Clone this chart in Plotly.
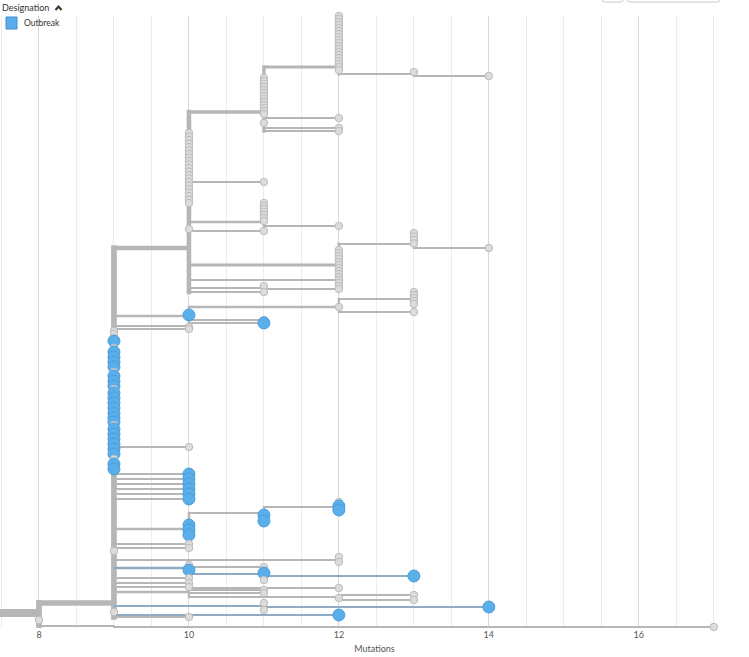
import math
import plotly.graph_objects as go

# ---------------- data ----------------
# internal nodes of the tree (mutations from reference, display row)
NODE_ID = ["R", "N8", "N9", "N9b", "A", "B", "P", "Q", "T", "C", "U", "D",
           "E", "F", "G", "H", "I", "J", "V", "S", "K", "L", "M", "Nn", "O"]
NODE_PARENT = [None, "R", "N8", "N8", "N9", "A", "B", "P", "A", "A", "C", "A",
               "N9", "E", "F", "N9", "N9", "I", "J", "N9", "N9", "K", "N9", "M", "N9"]
NODE_MUT = [0, 8, 9, 9, 10, 11, 12, 13, 11, 12, 13, 11,
            10, 12, 13, 10, 10, 11, 12, 12, 10, 11, 10, 12, 11]
NODE_ROW = [613, 613, 603, 626, 248, 112, 67, 74, 222, 265, 244, 288,
            316, 307, 299, 326, 529, 513, 507, 560, 568, 574, 592, 597, 606]

# samples (tips): parent node, mutations, designation, display rows
TIP_STACKS = [
    ("P", 12, "Other", [16, 19, 22, 25, 28, 31, 34, 37, 40, 43, 46, 49, 52, 55, 58, 61, 64, 67, 70]),
    ("Q", 13, "Other", [72]),
    ("Q", 14, "Other", [76]),
    ("B", 11, "Other", [78, 81, 84, 87, 90, 93, 96, 99, 102, 105, 108, 111, 114]),
    ("B", 12, "Other", [118]),
    ("B", 11, "Other", [123]),
    ("B", 12, "Other", [128, 131]),
    ("A", 10, "Other", [133, 136.5, 140, 143.5, 147, 150.5, 154, 157.5, 161, 164.5, 168,
                        171.5, 175, 178.5, 182, 185.5, 189, 192.5, 196, 199.5, 203]),
    ("A", 11, "Other", [182]),
    ("T", 11, "Other", [203, 206, 209, 212, 215, 218, 221]),
    ("T", 12, "Other", [226]),
    ("A", 10, "Other", [229]),
    ("A", 11, "Other", [231]),
    ("U", 13, "Other", [233, 236.5, 240, 243.5]),
    ("U", 14, "Other", [248]),
    ("C", 12, "Other", [250, 253, 256, 259, 262, 265, 268, 271, 274, 277, 280, 283, 286]),
    ("A", 12, "Other", [280]),
    ("D", 11, "Other", [286]),
    ("D", 12, "Other", [289]),
    ("A", 11, "Other", [292]),
    ("G", 13, "Other", [292, 295, 298, 301, 304]),
    ("F", 12, "Other", [307]),
    ("F", 13, "Other", [312]),
    ("E", 10, "Outbreak", [315]),
    ("H", 11, "Other", [320]),
    ("H", 11, "Outbreak", [323]),
    ("H", 10, "Other", [327]),
    ("N9", 10, "Other", [329]),
    ("N9", 9, "Other", [331, 334]),
    ("N9", 9, "Outbreak", [341]),
    ("N9", 9, "Other", [348]),
    ("N9", 9, "Outbreak", [352, 357, 362, 367]),
    ("N9", 9, "Other", [372]),
    ("N9", 9, "Outbreak", [376, 381, 386]),
    ("N9", 9, "Other", [389]),
    ("N9", 9, "Outbreak", [393, 398, 403, 408, 413, 418, 422]),
    ("N9", 9, "Other", [425]),
    ("N9", 9, "Outbreak", [429, 434, 439, 444, 449, 454]),
    ("N9", 10, "Other", [447]),
    ("N9", 9, "Other", [459]),
    ("N9", 9, "Outbreak", [464, 469]),
    ("N9", 10, "Outbreak", [474, 479, 484, 489, 494, 499]),
    ("V", 12, "Other", [502]),
    ("V", 12, "Outbreak", [506, 510]),
    ("J", 11, "Outbreak", [515, 521]),
    ("I", 10, "Outbreak", [525, 530, 535]),
    ("N9", 10, "Other", [544, 548]),
    ("N9", 9, "Other", [551]),
    ("S", 12, "Other", [557, 562]),
    ("K", 10, "Other", [565]),
    ("K", 11, "Other", [567]),
    ("K", 10, "Outbreak", [570]),
    ("L", 11, "Outbreak", [573]),
    ("L", 13, "Outbreak", [576]),
    ("L", 11, "Other", [580]),
    ("N9", 10, "Other", [578, 583, 587]),
    ("M", 12, "Other", [588]),
    ("M", 11, "Other", [590, 593]),
    ("Nn", 13, "Other", [595, 600]),
    ("Nn", 12, "Other", [598]),
    ("O", 11, "Other", [603, 610]),
    ("O", 14, "Outbreak", [607]),
    ("N9", 9, "Other", [612]),
    ("N9", 12, "Outbreak", [615]),
    ("N9", 10, "Other", [617]),
    ("N8", 8, "Other", [620]),
    ("N9b", 17, "Other", [627]),
]

X_TICK_STEP = 2
LEGEND_TITLE = "Designation"
LEGEND_ITEM = "Outbreak"
X_TITLE = "Mutations"

# ---------------- styles ----------------
W, H = 749, 657
M_T, M_B = 16, 29
PLOT_H = H - M_T - M_B
X_RANGE = [7.48, 17.47]
GREY_LINE = "#b6b6b6"
BLUE_LINE = "#8faac2"
GREY_FILL = "#dcdcdc"
GREY_EDGE = "#bcbcbc"
BLUE_FILL = "#5aaeea"
BLUE_EDGE = "#4c9ddb"
FONT = "Lato, 'Open Sans', sans-serif"
ROOT_WIDTH = 8


def width_for(n):
    return 1.5 + 0.32 * math.sqrt(n)


# ---------------- tree layout ----------------
mut = dict(zip(NODE_ID, NODE_MUT))
row = dict(zip(NODE_ID, NODE_ROW))
parent = dict(zip(NODE_ID, NODE_PARENT))
children = {n: [] for n in NODE_ID}
for n, p in zip(NODE_ID, NODE_PARENT):
    if p is not None:
        children[p].append(("n", n))

tips = []
for p, m, d, rows in TIP_STACKS:
    for r in rows:
        tips.append({"parent": p, "mut": m, "row": r, "des": d})
for i, t in enumerate(tips):
    children[t["parent"]].append(("t", i))


def subtree_tips(n):
    out = []
    for kind, c in children[n]:
        if kind == "t":
            out.append(c)
        else:
            out.extend(subtree_tips(c))
    return out


sub = {n: subtree_tips(n) for n in NODE_ID}
node_w = {n: width_for(len(sub[n])) for n in NODE_ID}


def edge_color(tip_ids, parent_mut):
    deepest = max(tips[i]["mut"] for i in tip_ids)
    best = [i for i in tip_ids if tips[i]["mut"] == deepest]
    if len(best) == 1 and tips[best[0]]["des"] == "Outbreak" and deepest - parent_mut >= 2:
        return BLUE_LINE
    return GREY_LINE


segments = {}  # (width, color) -> (xs, ys)


def add_seg(w, c, x0, y0, x1, y1):
    key = (round(w, 2), c)
    xs, ys = segments.setdefault(key, ([], []))
    xs += [x0, x1, None]
    ys += [y0, y1, None]


# verticals
for n in NODE_ID:
    if not children[n] or n == "R":
        continue
    rs = [row[n]]
    for kind, c in children[n]:
        rs.append(row[c] if kind == "n" else tips[c]["row"])
    w = node_w[n]
    if max(rs) > min(rs):
        add_seg(w, GREY_LINE, mut[n], min(rs) - w / 2, mut[n], max(rs) + w / 2)

# horizontals: nodes
for n in NODE_ID:
    p = parent[n]
    if p is None or mut[n] == mut[p]:
        continue
    w = ROOT_WIDTH if p == "R" else node_w[n]
    add_seg(w, edge_color(sub[n], mut[p]), mut[p], row[n], mut[n], row[n])

# horizontals: tips
for i, t in enumerate(tips):
    pm = mut[t["parent"]]
    if t["mut"] == pm:
        continue
    add_seg(width_for(1), edge_color([i], pm), pm, t["row"], t["mut"], t["row"])

fig = go.Figure()
for (w, c), (xs, ys) in sorted(segments.items(), key=lambda kv: -kv[0][0]):
    fig.add_trace(go.Scatter(x=xs, y=ys, mode="lines",
                             line=dict(color=c, width=w),
                             hoverinfo="skip", showlegend=False))

order = sorted(range(len(tips)), key=lambda i: tips[i]["row"])
is_ob = [tips[i]["des"] == "Outbreak" for i in order]
fig.add_trace(go.Scatter(
    x=[tips[i]["mut"] for i in order],
    y=[tips[i]["row"] for i in order],
    mode="markers",
    cliponaxis=False,
    marker=dict(size=[12 if b else 7.5 for b in is_ob],
                color=[BLUE_FILL if b else GREY_FILL for b in is_ob],
                line=dict(color=[BLUE_EDGE if b else GREY_EDGE for b in is_ob], width=1),
                opacity=1),
    text=[tips[i]["des"] for i in order],
    hovertemplate="%{text}<br>Mutations: %{x}<extra></extra>",
    showlegend=False))


# ---------------- decorations ----------------
def px(p):
    return p / W


def py(p):
    return 1 - (p - M_T) / PLOT_H


shapes = [
    # white cover behind the legend (hides gridlines there)
    dict(type="rect", xref="paper", yref="paper", x0=0, x1=px(205), y0=py(33), y1=py(0),
         fillcolor="white", line=dict(width=0), layer="below"),
    # legend swatch
    dict(type="rect", xref="paper", yref="paper", x0=px(6), x1=px(17), y0=py(29), y1=py(17),
         fillcolor=BLUE_FILL, line=dict(color="#3f8ccc", width=1)),
    # chevron next to legend title
    dict(type="path", xref="paper", yref="paper",
         path=f"M {px(55.5)} {py(10)} L {px(58.5)} {py(6.5)} L {px(61.5)} {py(10)}",
         line=dict(color="#333333", width=2)),
    # bottoms of toolbar buttons at the top right
    dict(type="path", xref="paper", yref="paper",
         path=(f"M {px(602)} {py(-6)} L {px(602)} {py(0)} Q {px(602)} {py(2)} {px(605)} {py(2)} "
               f"L {px(620)} {py(2)} Q {px(623)} {py(2)} {px(623)} {py(0)} L {px(623)} {py(-6)}"),
         line=dict(color="#c8c8c8", width=1)),
    dict(type="path", xref="paper", yref="paper",
         path=(f"M {px(627)} {py(-6)} L {px(627)} {py(0)} Q {px(627)} {py(2)} {px(630)} {py(2)} "
               f"L {px(717)} {py(2)} Q {px(720)} {py(2)} {px(720)} {py(0)} L {px(720)} {py(-6)}"),
         line=dict(color="#c8c8c8", width=1)),
]

annotations = [
    dict(text=LEGEND_TITLE, x=px(0), y=py(7), xref="paper", yref="paper",
         xanchor="left", yanchor="middle", showarrow=False,
         font=dict(family=FONT, size=9, color="#333333")),
    dict(text=LEGEND_ITEM, x=px(22), y=py(23), xref="paper", yref="paper",
         xanchor="left", yanchor="middle", showarrow=False,
         font=dict(family=FONT, size=8.5, color="#333333")),
]

fig.update_layout(
    width=W, height=H,
    margin=dict(l=0, r=0, t=M_T, b=M_B),
    paper_bgcolor="white", plot_bgcolor="white",
    font=dict(family=FONT, color="#555555"),
    shapes=shapes, annotations=annotations,
    showlegend=False,
    xaxis=dict(range=X_RANGE, dtick=X_TICK_STEP, tick0=0,
               showgrid=True, gridcolor="#d9d9d9", gridwidth=1,
               minor=dict(dtick=0.5, showgrid=True, gridcolor="#ececec", gridwidth=1),
               zeroline=False, showline=False, ticks="",
               tickfont=dict(family=FONT, size=9, color="#555555"),
               title=dict(text=X_TITLE, font=dict(family=FONT, size=9, color="#555555"),
                          standoff=6),
               fixedrange=True),
    yaxis=dict(range=[H - M_B, M_T], visible=False, showgrid=False,
               zeroline=False, fixedrange=True),
)

fig.write_html(
    "out.html",
    config={"displayModeBar": False},
    post_script="document.body.style.margin='0';document.body.style.overflow='hidden';",
)
